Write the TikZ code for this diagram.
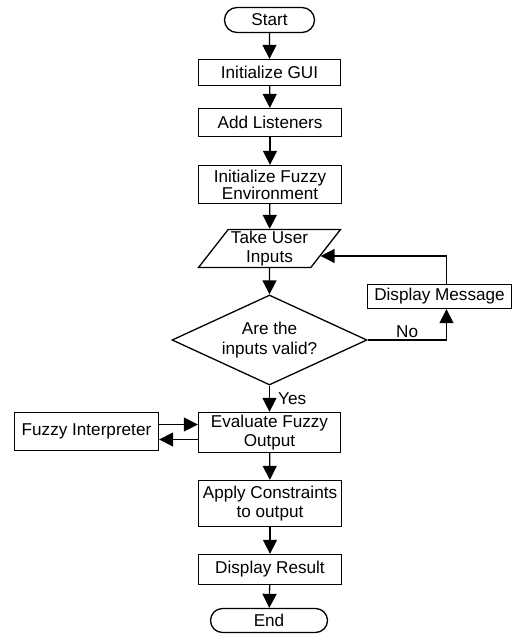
\documentclass[tikz,border=0pt]{standalone}
\usepackage{fontspec}
\setmainfont{Liberation Sans}
\usetikzlibrary{shapes.geometric,shapes.misc,arrows.meta,calc}
\begin{document}
\begin{tikzpicture}[x=1bp, y=-1bp, line join=miter,
  box/.style={draw, line width=1.3bp, inner sep=0pt, align=center,
    font=\fontsize{17.2}{19.5}\selectfont},
  term/.style={box, rounded rectangle},
  proc/.style={box, rectangle},
  io/.style={box, trapezium, trapezium left angle=50, trapezium right angle=130,
    trapezium stretches body},
  decide/.style={box, diamond, aspect=2.2},
  arr/.style={line width=1.3bp, -{Triangle[length=14bp,width=14bp]}},
  lbl/.style={inner sep=0pt, font=\fontsize{17.2}{19.5}\selectfont}]
\useasboundingbox (0,0) rectangle (514,634);
    % 主流程节点
\node[term, minimum width=90bp, minimum height=25bp] (start) at (269.5,20) {Start};
\node[proc, minimum width=142bp, minimum height=26bp] (gui) at (269.5,72.5) {Initialize GUI};
\node[proc, minimum width=143bp, minimum height=28bp] (listen) at (270,122.5) {Add Listeners};
\node[proc, minimum width=143bp, minimum height=38bp] (env) at (270,184.5) {Initialize Fuzzy\\[-2.5bp]Environment};
\node[io, minimum width=142bp, minimum height=38bp] (inputs) at (269.5,248.5) {Take User\\Inputs};
\node[decide, minimum width=195bp, minimum height=90bp] (valid) at (269.5,340) {Are the\\inputs valid?};
\node[proc, minimum width=142bp, minimum height=40bp] (eval) at (269.5,432.5) {Evaluate Fuzzy\\Output};
\node[proc, minimum width=143bp, minimum height=46bp] (apply) at (270,503.5) {Apply Constraints\\to output};
\node[proc, minimum width=143bp, minimum height=30bp] (result) at (270,569.5) {Display Result};
\node[term, minimum width=117bp, minimum height=24bp] (stop) at (269,620.5) {End};
    % 旁支节点
\node[proc, minimum width=144bp, minimum height=24bp] (msg) at (439.5,296.5) {Display Message};
\node[proc, minimum width=144bp, minimum height=38bp] (fuzzy) at (86.5,431.5) {Fuzzy Interpreter};
    % 辅助点
\coordinate (turn) at ($(valid.east -| msg.south)+(7,0)$);
\coordinate (back) at ($(inputs.bottom right corner)!0.31!(inputs.top right corner)$);
    % 主流程箭头
\draw[arr] (start) -- (gui);
\draw[arr] (gui) -- (listen);
\draw[arr] (listen) -- (env);
\draw[arr] (env) -- (inputs);
\draw[arr] (inputs) -- (valid);
\draw[arr] (valid) -- node[lbl, right=8bp] {Yes} (eval);
\draw[arr] (eval) -- (apply);
\draw[arr] (apply) -- (result);
\draw[arr] (result) -- (stop);
    % 无效输入回路
\draw[arr] (valid.east) -- node[lbl, above=2bp] {No} (turn) -- (turn |- msg.south);
\draw[arr] (msg.north -| turn) |- (back);
    % 模糊解释器往返
\draw[arr] ([yshift=7bp]fuzzy.east) -- ([yshift=7bp]fuzzy.east -| eval.west);
\draw[arr] ([yshift=-7bp]eval.west) -- ([yshift=-7bp]eval.west -| fuzzy.east);
\end{tikzpicture}
\end{document}
